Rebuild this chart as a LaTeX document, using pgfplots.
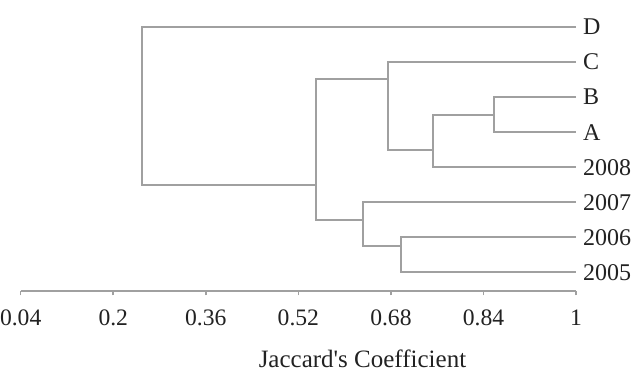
\documentclass[border=0pt]{standalone}
\usepackage{pgfplots}
\pgfplotsset{compat=1.18}
\usepackage{fontspec}
\setmainfont{Liberation Serif}
\definecolor{dline}{HTML}{A0A0A0}
\definecolor{txt}{HTML}{222222}
\begin{document}
\begin{tikzpicture}
\path[use as bounding box] (0,0) rectangle (318pt,185.5pt);
\begin{axis}[
  scale only axis,
  width=277.65pt, height=140.7pt,
  at={(10.35pt,40.15pt)}, anchor=south west,
  xmin=0.04, xmax=1,
  ymin=-0.5, ymax=7.52,
  y dir=reverse,
  axis x line=bottom,
  axis y line=none,
  axis line style={draw=dline, line width=0.9pt, -},
  xtick={0.04,0.2,0.36,0.52,0.68,0.84,1},
  xticklabels={0.04,0.2,0.36,0.52,0.68,0.84,1},
  tick align=outside,
  major tick length=2.3pt,
  x tick style={draw=dline, line width=0.8pt},
  xticklabel style={font=\fontsize{11.8}{13}\selectfont, text=txt, anchor=base, yshift=-14.9pt, inner sep=0pt},
  xlabel={Jaccard\textquotesingle s Coefficient},
  xlabel style={font=\fontsize{12.5}{14}\selectfont, text=txt, at={(rel axis cs:0.6155,0)}, anchor=base, yshift=-38.2pt, inner sep=0pt},
  clip=false,
  cycle list={{dline, solid, line width=1pt, mark=none}},
  every axis plot post/.style={draw=dline, solid, line width=1pt, mark=none, line join=miter},
]
% B - A
\addplot coordinates {(1,2) (0.858,2) (0.858,3) (1,3)};
% (B,A) - 2008
\addplot coordinates {(0.858,2.5) (0.752,2.5) (0.752,4) (1,4)};
% C - (B,A,2008)
\addplot coordinates {(1,1) (0.675,1) (0.675,3.5) (0.752,3.5)};
% 2006 - 2005
\addplot coordinates {(1,6) (0.697,6) (0.697,7) (1,7)};
% 2007 - (2006,2005)
\addplot coordinates {(1,5) (0.632,5) (0.632,6.25) (0.697,6.25)};
% upper - lower
\addplot coordinates {(0.675,1.5) (0.550,1.5) (0.550,5.5) (0.632,5.5)};
% D - rest
\addplot coordinates {(1,0) (0.250,0) (0.250,4.5) (0.550,4.5)};
\foreach \lab [count=\i from 0] in {D,C,B,A,2008,2007,2006,2005} {
  \edef\tmp{\noexpand\node[anchor=west, inner sep=0pt, xshift=3.4pt, text=txt, font=\noexpand\fontsize{12}{14}\noexpand\selectfont] at (axis cs:1,\i) {\lab};}
  \tmp
}
\end{axis}
\end{tikzpicture}
\end{document}
